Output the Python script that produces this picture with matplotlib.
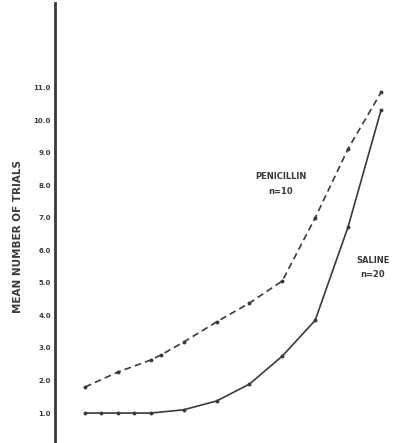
import numpy as np
import matplotlib.pyplot as plt

# session positions (1 = first) and mean trials
saline_x = [1, 1.5, 2, 2.5, 3, 4, 5, 6, 7, 8, 9, 10]
saline_y = [1.0, 1.0, 1.0, 1.0, 1.0, 1.1, 1.37, 1.89, 2.75, 3.85, 6.72, 10.3]
penicillin_x = [1, 2, 3, 3.3, 4, 5, 6, 7, 8, 9, 10]
penicillin_y = [1.8, 2.26, 2.63, 2.78, 3.18, 3.8, 4.38, 5.06, 7.0, 9.12, 10.85]
ytick_vals = [1, 2, 3, 4, 5, 6, 7, 8, 9, 10, 11]
ytick_labels = ["1.0", "2.0", "3.0", "4.0", "5.0", "6.0", "7.0", "8.0", "9.0", "10.0", "11.0"]

ink = "#3a3a3a"

fig = plt.figure(figsize=(4.03, 4.43), dpi=100)
ax = fig.add_axes([55 / 403, 0, 348 / 403, 440 / 443])

ax.plot(saline_x, saline_y, "-", color=ink, lw=1.2, marker="o", ms=1.8)
ax.plot(penicillin_x, penicillin_y, color=ink, lw=1.2, marker="o", ms=1.8,
        linestyle=(0, (4, 2.5)))

ax.set_xlim(0.088, 10.67)
ax.set_ylim(0.08, 13.6)

for s in ["top", "right", "bottom"]:
    ax.spines[s].set_visible(False)
ax.spines["left"].set_linewidth(2)
ax.spines["left"].set_color(ink)
ax.set_xticks([])
ax.set_yticks(ytick_vals)
ax.set_yticklabels(ytick_labels, fontsize=5, fontweight="bold", color=ink)
ax.tick_params(axis="y", length=0, pad=3)

ax.set_ylabel("MEAN NUMBER OF TRIALS", fontsize=7.5, fontweight="bold", color=ink)
ax.yaxis.set_label_coords(-0.092, 0.47)

ax.text(6.95, 8.26, "PENICILLIN", fontsize=6, fontweight="bold", color=ink, ha="center", va="center")
ax.text(6.95, 7.8, "n=10", fontsize=6, fontweight="bold", color=ink, ha="center", va="center")
ax.text(9.75, 5.7, "SALINE", fontsize=6, fontweight="bold", color=ink, ha="center", va="center")
ax.text(9.75, 5.25, "n=20", fontsize=6, fontweight="bold", color=ink, ha="center", va="center")

fig.savefig("out.png", dpi=100)
